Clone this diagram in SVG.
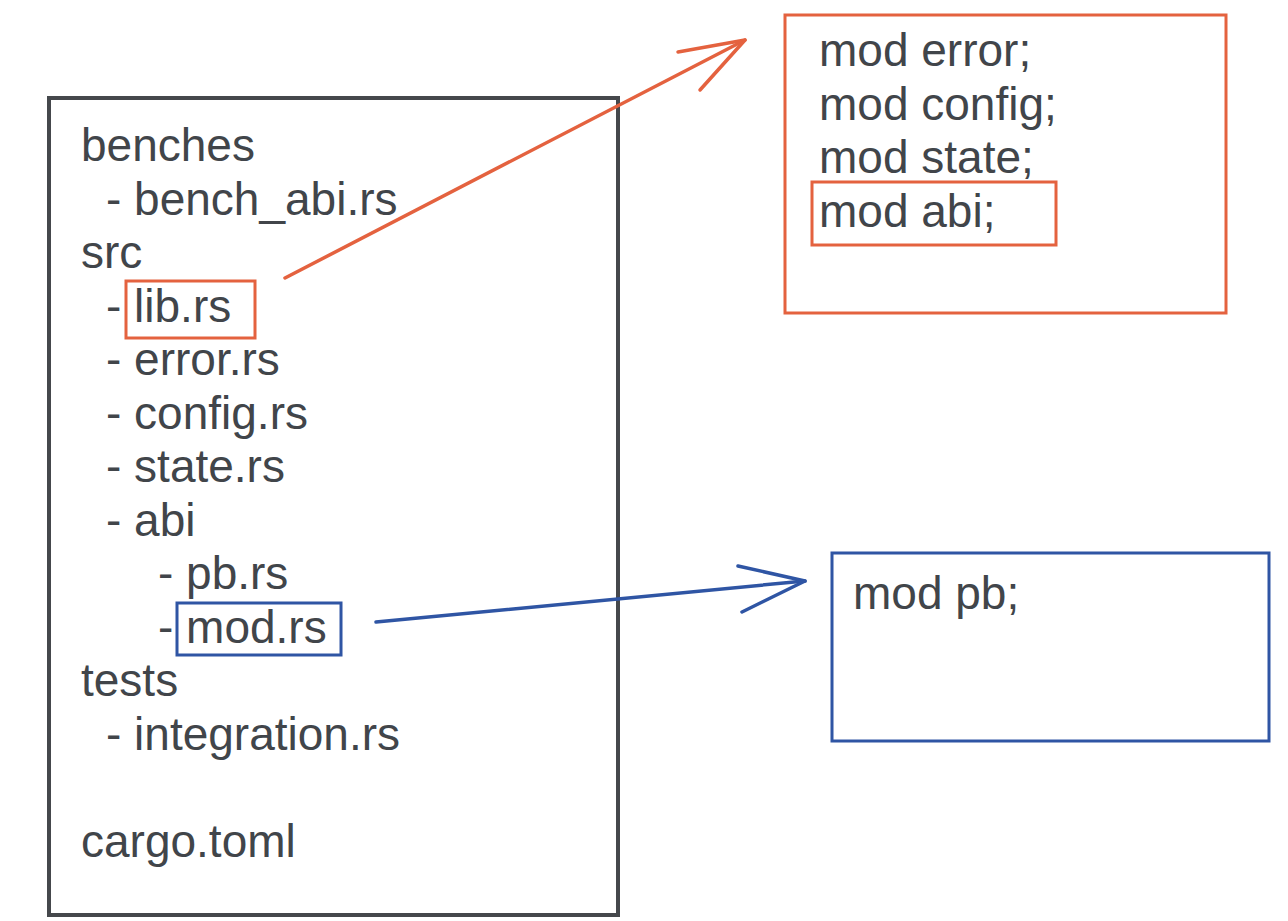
<svg xmlns="http://www.w3.org/2000/svg" width="1288" height="921" viewBox="0 0 1288 921">
<style>
  text { font-family: "Liberation Sans", Arial, sans-serif; font-size: 46px; fill: #41454a; }
  .dark { fill: none; stroke: #45484c; stroke-width: 4; }
  .red { fill: none; stroke: #e4623f; stroke-width: 3; }
  .blue { fill: none; stroke: #2f55a4; stroke-width: 3; }
  .redline { fill: none; stroke: #e4623f; stroke-width: 3.5; stroke-linecap: round; stroke-linejoin: round; }
  .blueline { fill: none; stroke: #2f55a4; stroke-width: 3.5; stroke-linecap: round; stroke-linejoin: round; }
</style>
<rect width="1288" height="921" fill="#ffffff"/>

<g id="tree">
  <rect class="dark" x="49" y="98" width="569" height="817"/>
  <text x="81" y="161">benches</text>
  <text x="106" y="214.5">- bench_abi.rs</text>
  <text x="81" y="268">src</text>
  <text x="106" y="321.5">- lib.rs</text>
  <text x="106" y="375">- error.rs</text>
  <text x="106" y="428.5">- config.rs</text>
  <text x="106" y="482">- state.rs</text>
  <text x="106" y="535.5">- abi</text>
  <text x="158" y="589">- pb.rs</text>
  <text x="158" y="642.5">- mod.rs</text>
  <text x="81" y="696">tests</text>
  <text x="106" y="749.5">- integration.rs</text>
  <text x="81" y="856.5">cargo.toml</text>
</g>

<g id="lib-highlight">
  <rect class="red" x="126" y="281" width="129" height="57"/>
</g>

<g id="mod-highlight">
  <rect class="blue" x="177" y="603" width="164" height="52"/>
</g>

<g id="lib-contents">
  <rect class="red" x="785" y="15" width="441" height="298"/>
  <text x="819" y="66">mod error;</text>
  <text x="819" y="119.5">mod config;</text>
  <text x="819" y="173">mod state;</text>
  <text x="819" y="226.5">mod abi;</text>
  <rect class="red" x="812" y="182" width="244" height="63"/>
</g>

<g id="mod-contents">
  <rect class="blue" x="832" y="553" width="437" height="188"/>
  <text x="853" y="609">mod pb;</text>
</g>

<g id="connectors">
  <line class="redline" x1="285" y1="278" x2="745" y2="40"/>
  <polyline class="redline" points="678,52 745,40 700,90"/>
  <line class="blueline" x1="376" y1="622" x2="805" y2="581"/>
  <polyline class="blueline" points="738,566 805,581 742,612"/>
</g>
</svg>
